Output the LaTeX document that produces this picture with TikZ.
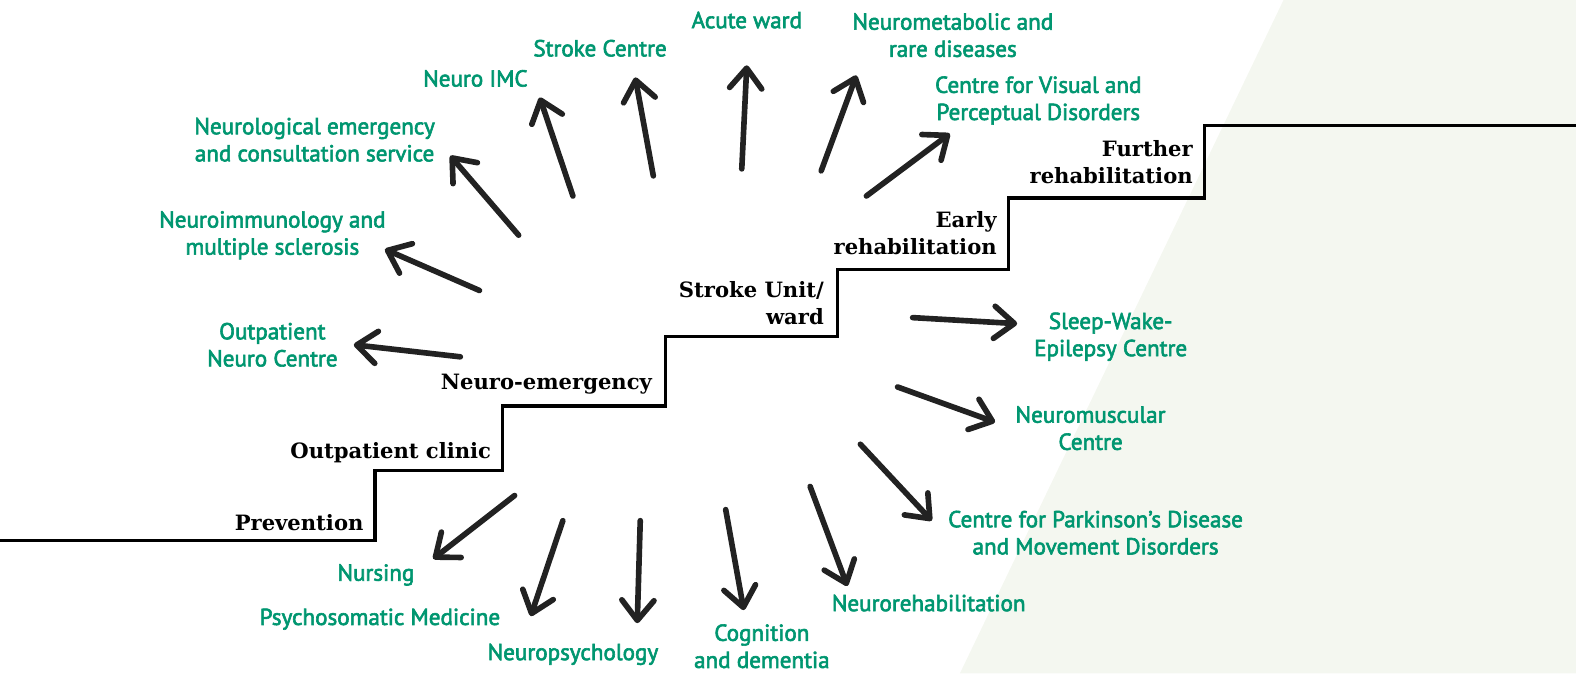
\documentclass[tikz,border=0pt]{standalone}
\usepackage{fontspec}
\usetikzlibrary{arrows.meta}
\newfontfamily\greenfont[FakeBold=2.6]{PT Sans}
\newfontfamily\stairfont{DejaVu Serif}
\definecolor{lblgreen}{RGB}{0,150,112}
\definecolor{arrowgray}{RGB}{34,34,34}
\definecolor{bggreen}{RGB}{244,247,240}
\begin{document}
\begin{tikzpicture}[x=0.5pt,y=-0.5pt,
  glabel/.style={text=lblgreen,font=\greenfont\fontsize{11.5}{13.5}\selectfont,align=center,inner sep=0pt},
  slabel/.style={text=black,font=\stairfont\bfseries\fontsize{10.5}{13.5}\selectfont,align=right,anchor=east,inner sep=0pt},
  harrow/.style={draw=arrowgray,line width=2.8pt,line cap=round,-{Straight Barb[length=10pt,width=16pt,line cap=round,line join=round]}},
  stairs/.style={draw=black,line width=1.6pt}]
\useasboundingbox (0,0) rectangle (1568,670);
\fill[bggreen] (1277,0) -- (1568,0) -- (1568,670) -- (955,670) -- cycle;
% staircase
\draw[stairs] (0,538) -- (373,538) -- (373,468) -- (500,468) -- (500,404) -- (662,404) -- (662,335) -- (833,335) -- (833,268) -- (1003,268) -- (1003,197) -- (1198,197) -- (1198,125) -- (1568,125);
% stair labels
\node[slabel] (prev) at (362,520) {Prevention};
\node[slabel] (outcl) at (489,450) {Outpatient clinic};
\node[slabel] (nemerg) at (649,382) {Neuro-emergency};
\node[slabel] (sunit) at (820,302) {Stroke Unit/\\ward};
\node[slabel] (early) at (992,232) {Early\\rehabilitation};
\node[slabel] (further) at (1187,161) {Further\\rehabilitation};
% green labels
\node[glabel] (acute) at (743,20) {Acute ward};
\node[glabel] (stroke) at (597,48) {Stroke Centre};
\node[glabel] (imc) at (473,78) {Neuro IMC};
\node[glabel] (metab) at (948,35) {Neurometabolic and\\rare diseases};
\node[glabel] (visual) at (1033,100) {Centre for Visual and\\Perceptual Disorders};
\node[glabel] (emcons) at (313,139) {Neurological emergency\\and consultation service};
\node[glabel] (immun) at (271,234) {Neuroimmunology and\\multiple sclerosis};
\node[glabel] (outneuro) at (271,343) {Outpatient\\Neuro Centre};
\node[glabel] (sleep) at (1105,335) {Sleep-Wake-\\Epilepsy Centre};
\node[glabel] (muscle) at (1085,426) {Neuromuscular\\Centre};
\node[glabel] (park) at (1090,530) {Centre for Parkinson’s Disease\\and Movement Disorders};
\node[glabel] (rehab) at (924,600) {Neurorehabilitation};
\node[glabel] (cogn) at (758,643) {Cognition\\and dementia};
\node[glabel] (npsych) at (570,651) {Neuropsychology};
\node[glabel] (psycho) at (378,616) {Psychosomatic Medicine};
\node[glabel] (nurs) at (374,572) {Nursing};
% arrow end points
\coordinate (t1) at (458,355); \coordinate (h1) at (352,343);
\coordinate (t2) at (477,289); \coordinate (h2) at (383,248);
\coordinate (t3) at (516,234); \coordinate (h3) at (448,155);
\coordinate (t4) at (570,195); \coordinate (h4) at (537,97);
\coordinate (t5) at (650,175); \coordinate (h5) at (632,77);
\coordinate (t6) at (738,168); \coordinate (h6) at (743,65);
\coordinate (t7) at (817,170); \coordinate (h7) at (852,75);
\coordinate (t8) at (862,195); \coordinate (h8) at (945,133);
\coordinate (t9) at (908,316); \coordinate (h9) at (1012,322);
\coordinate (t10) at (893,385); \coordinate (h10) at (990,420);
\coordinate (t11) at (856,442); \coordinate (h11) at (927,518);
\coordinate (t12) at (806,484); \coordinate (h12) at (843,583);
\coordinate (t13) at (722,507); \coordinate (h13) at (740,607);
\coordinate (t14) at (637,518); \coordinate (h14) at (634,620);
\coordinate (t15) at (560,518); \coordinate (h15) at (528,613);
\coordinate (t16) at (512,493); \coordinate (h16) at (431,556);
\foreach \i in {1,...,16} {\draw[harrow] (t\i) -- (h\i);}
\end{tikzpicture}
\end{document}
